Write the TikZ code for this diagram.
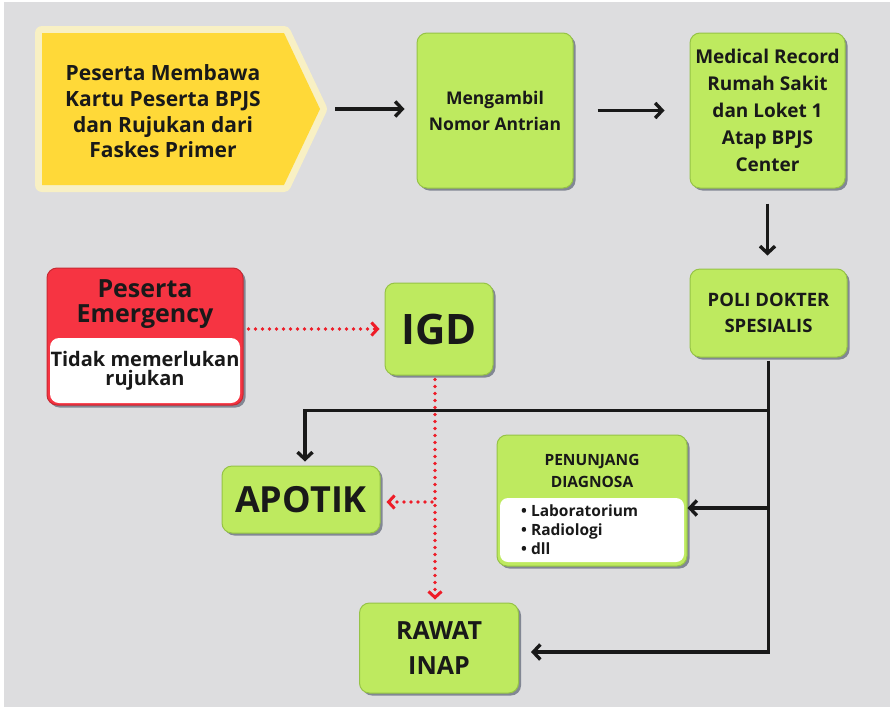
\documentclass[tikz,border=0pt]{standalone}
\usepackage{fontspec}
\setmainfont{Open Sans}
\usepackage{xcolor}
\usepackage{tikz}
\usetikzlibrary{positioning, arrows.meta, shadows, calc}
\definecolor{bggray}{RGB}{221,221,223}
\definecolor{boxgreen}{RGB}{190,234,95}
\definecolor{boxedge}{RGB}{150,195,70}
\definecolor{shadowgray}{RGB}{115,120,135}
\definecolor{sigyellow}{RGB}{255,217,56}
\definecolor{sighalo}{RGB}{248,240,196}
\definecolor{emred}{RGB}{246,52,66}
\definecolor{emedge}{RGB}{200,40,50}
\definecolor{inkblack}{RGB}{25,25,25}
\definecolor{dotred}{RGB}{238,28,40}
\newcommand{\fsz}[2]{\fontsize{#1}{#2}\selectfont\bfseries}

\begin{document}
\begin{tikzpicture}[
    x=1pt, y=-1pt,
    box/.style={draw=boxedge, line width=1pt, fill=boxgreen, rounded corners=10pt, inner sep=0pt,
        align=center, text=inkblack,
        drop shadow={shadow xshift=2.5pt, shadow yshift=-2.5pt, fill=shadowgray, opacity=0.85}},
    label/.style={align=center, text=inkblack, inner sep=0pt},
    flow/.style={-{Straight Barb[length=7pt, width=15pt, line width=3.4pt]}, line width=3.8pt, inkblack},
    emflow/.style={-{Straight Barb[length=6pt, width=13pt, line width=3pt]}, dotred, line width=3.8pt,
        line cap=round, dash pattern=on 0pt off 7pt}
]
\fill[white] (0,0) rectangle (890,707);
\fill[bggray] (4,2) rectangle (890,707);
\useasboundingbox (0,0) rectangle (890,707);

% top row
\draw[fill=sigyellow, draw=none, preaction={draw=sighalo, line width=14pt, line join=round}]
    (42,33) -- (284,33) -- (320,109) -- (284,185) -- (42,185) -- cycle;
\coordinate (pesertatip) at (320,109);
\node[label, font=\fsz{21}{25.7}] (pesertalabel) at (163,111.5)
    {Peserta Membawa\\Kartu Peserta BPJS\\dan Rujukan dari\\Faskes Primer};
\node[box, minimum width=156pt, minimum height=155pt, font=\fsz{17.5}{26}] (ambil) at (495,110.5)
    {Mengambil\\Nomor Antrian};
\node[box, minimum width=155pt, minimum height=155pt, font=\fsz{19}{27}] (medrec) at (767.5,110.5)
    {Medical Record\\Rumah Sakit\\dan Loket 1\\Atap BPJS\\Center};

% middle row
\node[box, minimum width=157pt, minimum height=88pt, font=\fsz{18.5}{26}] (poli) at (768.5,313)
    {POLI DOKTER\\SPESIALIS};
\node[draw=emedge, line width=1pt, fill=emred, rounded corners=10pt, minimum width=196pt, minimum height=137pt,
    drop shadow={shadow xshift=2.5pt, shadow yshift=-2.5pt, fill=shadowgray, opacity=0.85}] (emer) at (145,336.5) {};
\node[label, font=\fsz{25}{25}] (emertitle) at (145,304) {Peserta\\Emergency};
\node[label, fill=white, rounded corners=9pt, minimum width=190pt, minimum height=65pt, font=\fsz{20}{19}]
    (emernote) at (145,370.5) {Tidak memerlukan\\rujukan};
\node[box, minimum width=108pt, minimum height=92pt, font=\fsz{42}{42}] (igd) at (439,329) {IGD};

% bottom rows
\node[box, minimum width=158pt, minimum height=67pt, font=\fsz{36}{36}] (apotik) at (301,499.5) {APOTIK};
\node[box, minimum width=190pt, minimum height=131pt] (penunjang) at (592,500.5) {};
\node[label, font=\fsz{15.5}{22}] (pentitle) at (592,471) {PENUNJANG\\DIAGNOSA};
\node[fill=white, rounded corners=8pt, minimum width=184pt, minimum height=64pt] (penlist) at (592,530) {};
\node[label, align=left, anchor=west, font=\fsz{15.5}{19}] (penitems) at (521,530)
    {• Laboratorium\\• Radiologi\\• dll};
\node[box, minimum width=159pt, minimum height=90pt, font=\fsz{25}{35}] (rawat) at (439,648) {RAWAT\\INAP};

% black connectors
\draw[flow, shorten <=15pt, shorten >=12pt] (pesertatip) -- (pesertatip -| ambil.west);
\draw[flow, shorten <=24pt, shorten >=25pt] (ambil.east) -- (medrec.west);
\draw[flow, shorten <=15pt, shorten >=13pt] (medrec.south) -- (medrec.south |- poli.north);
\coordinate (split) at ($(poli.south)+(0,53)$);
\coordinate (penin) at ($(penunjang.east)+(0,7.5)$);
\coordinate (rawin) at ($(rawat.east)+(0,4)$);
\draw[flow, shorten <=3pt, shorten >=12pt] (poli.south) -- (poli.south |- rawin) -- (rawin);
\draw[flow, shorten >=4pt] (split) -- ($(split -| apotik.north)+(4,0)$) -- ($(apotik.north)+(4,0)$);
\draw[flow] (poli.south |- penin) -- (penin);

% red dotted connectors
\draw[emflow, shorten <=5pt, shorten >=5pt] (emer.east |- igd.west) -- (igd.west);
\coordinate (igdout) at ($(igd.south)+(-4,0)$);
\draw[emflow, shorten <=4pt, shorten >=3pt] (igdout) -- (igdout |- rawat.north);
\draw[emflow, shorten >=6pt] ($(igdout |- apotik.east)+(-3,2.5)$) -- ($(apotik.east)+(0,2.5)$);

\end{tikzpicture}
\end{document}
